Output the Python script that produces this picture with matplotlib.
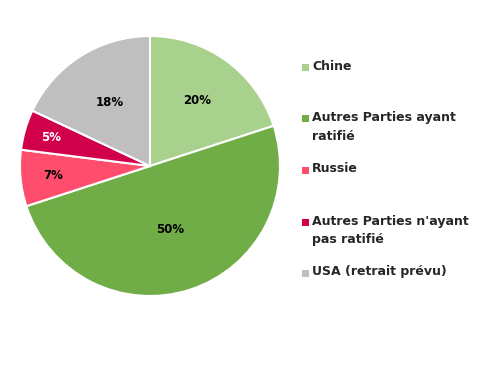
import numpy as np
import matplotlib
matplotlib.use("Agg")
import matplotlib.pyplot as plt
from matplotlib.patches import Rectangle

labels = ["Chine", "Autres Parties ayant\nratifié", "Russie",
          "Autres Parties n'ayant\npas ratifié", "USA (retrait prévu)"]
values = [20, 50, 7, 5, 18]
colors = ["#a9d18e", "#70ad47", "#ff4d6d", "#d1004b", "#bfbfbf"]
pct_colors = ["black", "black", "black", "white", "black"]
# label distance from centre, as fraction of radius
pct_dist = [0.62, 0.51, 0.75, 0.79, 0.58]

fig = plt.figure(figsize=(4.88, 3.71), dpi=100)
ax = fig.add_axes([20 / 488, 75 / 371, 260 / 488, 260 / 371])

wedges, _ = ax.pie(values, colors=colors, startangle=90, counterclock=False,
                   wedgeprops=dict(edgecolor="white", linewidth=1.5))
ax.set_xlim(-1, 1)
ax.set_ylim(-1, 1)

for w, v, d, c in zip(wedges, values, pct_dist, pct_colors):
    ang = np.deg2rad((w.theta1 + w.theta2) / 2)
    ax.text(d * np.cos(ang), d * np.sin(ang), f"{v}%", ha="center", va="center",
            fontsize=8.5, fontweight="bold", color=c)

# legend drawn by hand so the marker sits on the first line
y_top = [67, 119, 170, 222, 273]
for lab, col, y in zip(labels, colors, y_top):
    fy = 1 - y / 371
    fig.patches.append(Rectangle((302 / 488, fy - 3.5 / 371), 7 / 488, 7 / 371,
                                 transform=fig.transFigure, facecolor=col,
                                 edgecolor="none"))
    fig.text(312 / 488, fy + 7.5 / 371, lab, ha="left", va="top", fontsize=9,
             fontweight="bold", color="#262626", linespacing=1.55)

fig.savefig("out.png", dpi=100)
